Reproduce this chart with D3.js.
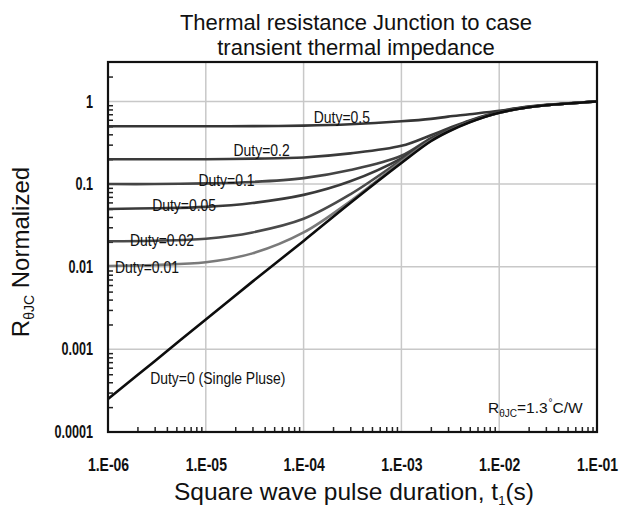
<!DOCTYPE html>
<html>
<head>
<meta charset="utf-8">
<script src="https://cdn.jsdelivr.net/npm/d3@7"></script>
<style>
  body { margin: 0; background: #fff; }
  text { font-family: "Liberation Sans", Arial, sans-serif; }
</style>
</head>
<body>
<div id="chart"></div>
<script>
const W = 630, H = 517;
const margin = {top: 62, right: 33, bottom: 85, left: 108};
const width = W - margin.left - margin.right;
const height = H - margin.top - margin.bottom;

const tPoints = [1e-6, 3e-6, 1e-5, 3e-5, 1e-4, 3e-4, 1e-3, 2e-3, 3e-3, 5e-3, 1e-2, 2e-2, 3e-2, 1e-1];
const duty05  = [0.5, 0.5, 0.5, 0.502, 0.51, 0.53, 0.575, 0.615, 0.655, 0.7, 0.77, 0.87, 0.91, 1.0];
const duty02  = [0.2, 0.2, 0.2, 0.203, 0.21, 0.235, 0.29, 0.39, 0.47, 0.59, 0.75, 0.86, 0.905, 1.0];
const duty01  = [0.1, 0.1, 0.102, 0.106, 0.118, 0.148, 0.22, 0.36, 0.45, 0.58, 0.74, 0.855, 0.9, 1.0];
const duty005 = [0.05, 0.051, 0.053, 0.059, 0.074, 0.108, 0.205, 0.35, 0.445, 0.575, 0.735, 0.85, 0.9, 1.0];
const duty002 = [0.0203, 0.0206, 0.0218, 0.026, 0.038, 0.075, 0.195, 0.34, 0.44, 0.57, 0.73, 0.85, 0.9, 1.0];
const duty001 = [0.0102, 0.0105, 0.0113, 0.0145, 0.026, 0.062, 0.187, 0.335, 0.435, 0.565, 0.73, 0.85, 0.9, 1.0];
const duty0   = [0.00025, 0.00072, 0.0023, 0.0066, 0.0205, 0.059, 0.18, 0.33, 0.43, 0.56, 0.73, 0.85, 0.9, 1.0];

const xTicks = [1e-6, 1e-5, 1e-4, 1e-3, 1e-2, 1e-1];
const xTickLabels = ["1.E-06", "1.E-05", "1.E-04", "1.E-03", "1.E-02", "1.E-01"];
const yTicks = [1e-4, 1e-3, 1e-2, 1e-1, 1];
const yTickLabels = ["0.0001", "0.001", "0.01", "0.1", "1"];

const seriesNames = ["Duty=0.5", "Duty=0.2", "Duty=0.1", "Duty=0.05", "Duty=0.02", "Duty=0.01", "Duty=0 (Single Pluse)"];
const seriesValues = [duty05, duty02, duty01, duty005, duty002, duty001, duty0];
const seriesColors = ["#353535", "#3a3a3a", "#444", "#3a3a3a", "#4a4a4a", "#7a7a7a", "#0d0d0d"];
// where each curve label sits (t, value) = its left/baseline corner
const labelAt = [[1.27e-4, 0.553], [1.92e-5, 0.22], [8.4e-6, 0.0957], [2.83e-6, 0.0477], [1.68e-6, 0.018], [1.18e-6, 0.0085], [2.7e-6, 0.000386]];

const svg = d3.select("#chart").append("svg")
  .attr("width", W)
  .attr("height", H);

const g = svg.append("g")
  .attr("transform", "translate(" + margin.left + "," + margin.top + ")");

var x = d3.scaleLog().domain([1e-6, 1e-1]).range([0, width]);
var y = d3.scaleLog().domain([1e-4, 3]).range([height, 0]);

// squeeze text to look like a narrow face
function squeeze(sel, k) {
  sel.each(function() {
    var w = this.getComputedTextLength();
    d3.select(this).attr("textLength", w * k).attr("lengthAdjust", "spacingAndGlyphs");
  });
}

// grid
g.selectAll(".vgrid")
  .data(xTicks.slice(1, -1))
  .enter().append("line")
  .attr("x1", d => x(d)).attr("x2", d => x(d))
  .attr("y1", 0).attr("y2", height)
  .attr("stroke", "#c8c8c8").attr("stroke-width", 1.5);
g.selectAll(".hgrid")
  .data(yTicks.slice(1))
  .enter().append("line")
  .attr("y1", d => y(d)).attr("y2", d => y(d))
  .attr("x1", 0).attr("x2", width)
  .attr("stroke", "#c8c8c8").attr("stroke-width", 1.5);

// minor ticks, pointing inward
var xMinor = [];
xTicks.slice(0, -1).forEach(function(d) { for (var k = 2; k < 10; k++) xMinor.push(d * k); });
var yMinor = [];
yTicks.forEach(function(d) { for (var k = 2; k < 10; k++) if (d * k < 3) yMinor.push(d * k); });

g.append("g")
  .attr("transform", "translate(0," + height + ")")
  .call(d3.axisBottom(x).tickValues(xMinor).tickSize(-5).tickFormat(""))
  .call(a => a.select(".domain").remove())
  .selectAll("line").attr("stroke", "#222").attr("stroke-width", 1.5);
g.append("g")
  .call(d3.axisLeft(y).tickValues(yMinor).tickSize(-5).tickFormat(""))
  .call(a => a.select(".domain").remove())
  .selectAll("line").attr("stroke", "#222").attr("stroke-width", 1.5);

// major tick labels
g.append("g")
  .attr("transform", "translate(0," + height + ")")
  .call(d3.axisBottom(x).tickValues(xTicks).tickSize(0).tickPadding(27)
    .tickFormat((d, i) => xTickLabels[i]))
  .call(a => a.select(".domain").remove())
  .selectAll("text")
  .style("font-family", "'Liberation Sans', Arial, sans-serif")
  .style("font-size", "17.5px").style("font-weight", "bold").attr("fill", "#111")
  .call(squeeze, 0.8);
g.append("g")
  .call(d3.axisLeft(y).tickValues(yTicks).tickSize(0).tickPadding(15)
    .tickFormat((d, i) => yTickLabels[i]))
  .call(a => a.select(".domain").remove())
  .selectAll("text")
  .style("font-family", "'Liberation Sans', Arial, sans-serif")
  .style("font-size", "17.5px").style("font-weight", "bold").attr("fill", "#111")
  .call(squeeze, 0.72);

// curves
var line = d3.line()
  .x(d => x(d[0]))
  .y(d => y(d[1]))
  .curve(d3.curveCatmullRom.alpha(0.5));

seriesValues.forEach(function(vals, i) {
  g.append("path")
    .datum(tPoints.map((t, j) => [t, vals[j]]))
    .attr("fill", "none")
    .attr("stroke", seriesColors[i])
    .attr("stroke-width", 2.6)
    .attr("d", line);
});

// curve labels
g.selectAll(".dlabel")
  .data(seriesNames)
  .enter().append("text")
  .attr("x", (d, i) => x(labelAt[i][0]))
  .attr("y", (d, i) => y(labelAt[i][1]))
  .style("font-size", "17px")
  .attr("fill", "#111")
  .text(d => d)
  .call(squeeze, 0.82);

// R_thetaJC note
var note = g.append("text")
  .attr("x", width - 109)
  .attr("y", height - 19)
  .style("font-size", "15.5px")
  .attr("fill", "#111");
note.append("tspan").text("R");
note.append("tspan").attr("dy", 4).style("font-size", "10px").text("θJC");
note.append("tspan").attr("dy", -4).text("=1.3");
note.append("tspan").attr("dy", -7).attr("dx", 1).style("font-size", "10px").text("°");
note.append("tspan").attr("dy", 7).text("C/W");

// frame
g.append("rect")
  .attr("width", width).attr("height", height)
  .attr("fill", "none").attr("stroke", "#111").attr("stroke-width", 2.2);

// titles
svg.append("text")
  .attr("x", 356).attr("y", 30)
  .attr("text-anchor", "middle")
  .style("font-size", "22px").attr("fill", "#111")
  .text("Thermal resistance Junction to case");
svg.append("text")
  .attr("x", 356).attr("y", 55)
  .attr("text-anchor", "middle")
  .style("font-size", "22px").attr("fill", "#111")
  .text("transient thermal impedance");

var xl = svg.append("text")
  .attr("x", 354).attr("y", 500)
  .attr("text-anchor", "middle")
  .style("font-size", "24.5px").attr("fill", "#111");
xl.append("tspan").text("Square wave pulse duration, t");
xl.append("tspan").attr("dy", 5).style("font-size", "13px").text("1");
xl.append("tspan").attr("dy", -5).text("(s)");

var yl = svg.append("text")
  .attr("transform", "translate(29,252) rotate(-90)")
  .attr("text-anchor", "middle")
  .style("font-size", "24px").attr("fill", "#111");
yl.append("tspan").text("R");
yl.append("tspan").attr("dy", 5).style("font-size", "14px").text("θJC");
yl.append("tspan").attr("dy", -5).text(" Normalized");
</script>
</body>
</html>
